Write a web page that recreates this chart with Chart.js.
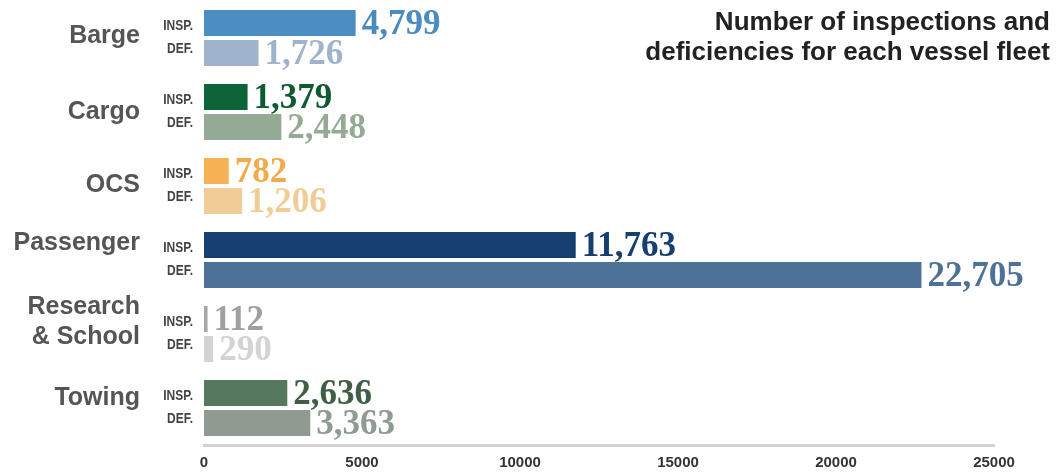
<!DOCTYPE html>
<html>
<head>
<meta charset="utf-8">
<script src="https://cdn.jsdelivr.net/npm/chart.js@4/dist/chart.umd.min.js"></script>
<style>
  html, body { margin: 0; padding: 0; background: #fff; }
  #wrap { width: 1060px; height: 473px; position: relative; }
</style>
</head>
<body>
<div id="wrap"><canvas id="fleetChart"></canvas></div>
<script>
// vessel fleets, top to bottom
const fleets = ['Barge', 'Cargo', 'OCS', 'Passenger', ['Research', '& School'], 'Towing'];
const inspections = [4799, 1379, 782, 11763, 112, 2636];
const deficiencies = [1726, 2448, 1206, 22705, 290, 3363];
const xTicks = [0, 5000, 10000, 15000, 20000, 25000];

// one colour pair per fleet (inspection bar, deficiency bar)
const inspColors = ['#4b8fc2', '#0c6438', '#f5b152', '#163f6f', '#a6a6a6', '#56785c'];
const defColors = ['#a0b3cc', '#95aa94', '#f0cd97', '#4e7197', '#d3d3d3', '#8f9a91'];
const inspLabelColors = ['#4a8cc0', '#0f5a33', '#f2ab4a', '#163f6f', '#a0a0a0', '#3f5e45'];
// fleet names sit a little above the middle of some groups
const nameShift = [-2, 0, -1, -17, -12, -10];

const titleLines = ['Number of inspections and', 'deficiencies for each vessel fleet'];

const fmt = v => v.toLocaleString('en-US');

// draw text squeezed horizontally to mimic a condensed face
function narrowText(ctx, text, x, y, squeeze) {
  ctx.save();
  ctx.translate(x, y);
  ctx.scale(squeeze, 1);
  ctx.fillText(text, 0, 0);
  ctx.restore();
}

// value numbers, fleet names, INSP./DEF. tags and the heading
const annotate = {
  id: 'annotate',
  afterDatasetsDraw(chart) {
    const ctx = chart.ctx;
    const area = chart.chartArea;
    const yScale = chart.scales.y;
    ctx.save();

    chart.data.datasets.forEach((ds, di) => {
      const meta = chart.getDatasetMeta(di);
      meta.data.forEach((bar, i) => {
        ctx.font = 'bold 35px "Liberation Serif", serif';
        ctx.textAlign = 'left';
        ctx.textBaseline = 'middle';
        ctx.fillStyle = di === 0 ? inspLabelColors[i] : defColors[i];
        ctx.fillText(fmt(ds.data[i]), bar.x + 6, bar.y + 2);
      });
    });

    ctx.textAlign = 'right';
    ctx.textBaseline = 'middle';
    fleets.forEach((f, i) => {
      const cy = yScale.getPixelForValue(i);

      ctx.font = 'bold 25px "Liberation Sans", Arial, sans-serif';
      ctx.fillStyle = '#555';
      const lines = Array.isArray(f) ? f : [f];
      const top = cy + nameShift[i] - (lines.length - 1) * 15;
      lines.forEach((ln, k) => ctx.fillText(ln, 140, top + k * 30));

      ctx.font = 'bold 15px "Liberation Sans", Arial, sans-serif';
      ctx.fillStyle = '#444';
      narrowText(ctx, 'INSP.', area.left - 11, cy - 12, 0.8);
      narrowText(ctx, 'DEF.', area.left - 11, cy + 11, 0.8);
    });

    ctx.font = 'bold 26px "Liberation Sans", Arial, sans-serif';
    ctx.fillStyle = '#222';
    ctx.fillText(titleLines[0], 1050, 23);
    ctx.fillText(titleLines[1], 1050, 53);
    ctx.restore();
  }
};

const ctx = document.getElementById('fleetChart').getContext('2d');
new Chart(ctx, {
  type: 'bar',
  data: {
    labels: fleets,
    datasets: [
      { label: 'INSP.', data: inspections, backgroundColor: inspColors },
      { label: 'DEF.', data: deficiencies, backgroundColor: defColors }
    ]
  },
  options: {
    indexAxis: 'y',
    responsive: true,
    maintainAspectRatio: false,
    animation: false,
    categoryPercentage: 0.81,
    barPercentage: 0.867,
    layout: { padding: { top: 1, right: 66, bottom: 0, left: 0 } },
    plugins: {
      legend: { display: false },
      tooltip: { enabled: false }
    },
    scales: {
      x: {
        min: 0,
        max: 25000,
        afterBuildTicks: s => { s.ticks = xTicks.map(v => ({ value: v })); },
        afterFit: s => { s.height = 28; },
        grid: { display: false, drawTicks: false },
        border: { color: '#d2d2d2', width: 3 },
        ticks: {
          padding: 9,
          color: '#333',
          maxRotation: 0,
          callback: v => String(v),
          font: { family: '"Liberation Sans", Arial, sans-serif', size: 15, weight: 'bold' }
        }
      },
      y: {
        afterFit: s => { s.width = 204; },
        grid: { display: false, drawTicks: false },
        border: { display: false },
        ticks: { display: false }
      }
    }
  },
  plugins: [annotate]
});
</script>
</body>
</html>
